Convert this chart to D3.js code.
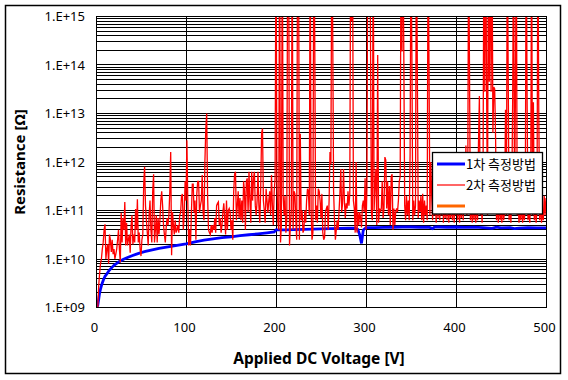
<!DOCTYPE html>
<html><head><meta charset="utf-8">
<script src="https://cdn.jsdelivr.net/npm/d3@7/dist/d3.min.js"></script>
<style>body{margin:0;background:#fff}svg{display:block}</style>
</head><body><svg id="chart" width="568" height="380"></svg>
<script>
// ---------- data ----------
const xTicks = [0, 100, 200, 300, 400, 500];
const yTickValues = [1e9, 1e10, 1e11, 1e12, 1e13, 1e14, 1e15];
const yTickLabels = ["1.E+09", "1.E+10", "1.E+11", "1.E+12", "1.E+13", "1.E+14", "1.E+15"];
const seriesNames = ["1차 측정방법", "2차 측정방법", ""];
const seriesColors = ["#0000ff", "#ff0000", "#ff6600"];

// series 1 (blue): voltage [V] and resistance [ohm]
const s1Volts = [1,2,3,4,5,6,7,8,10,12,14,16,18,20,23,26,30,35,40,45,50,55,60,65,70,75,80,85,90,95,100,110,120,130,140,150,160,170,180,190,198,200,210,220,230,240,250,260,270,280,288,291,293,295,297,300,310,320,330,340,350,360,370,374,376,380,390,400,410,420,430,440,445,450,460,465,470,480,490,500];
const s1Values = [1.0e9,1.12e9,1.48e9,2.0e9,2.4e9,2.8e9,3.2e9,3.6e9,4.4e9,4.9e9,5.6e9,6.2e9,6.8e9,7.4e9,8.1e9,8.9e9,9.8e9,1.07e10,1.17e10,1.26e10,1.35e10,1.43e10,1.51e10,1.58e10,1.66e10,1.72e10,1.78e10,1.84e10,1.9e10,1.97e10,2.04e10,2.26e10,2.45e10,2.6e10,2.75e10,2.85e10,3.02e10,3.16e10,3.3e10,3.47e10,3.63e10,3.98e10,3.98e10,4.03e10,4.07e10,4.12e10,4.17e10,4.22e10,4.27e10,4.32e10,4.32e10,4.07e10,3.16e10,2.1e10,3.98e10,4.42e10,4.42e10,4.47e10,4.52e10,4.57e10,4.57e10,4.52e10,4.52e10,4.22e10,4.52e10,4.57e10,4.52e10,4.57e10,4.47e10,4.52e10,4.42e10,4.3e10,4.55e10,4.37e10,4.42e10,4.25e10,4.32e10,4.42e10,4.37e10,4.37e10];

// series 2 (red): one reading per volt, starting at 2 V
const s2StartVolt = 2;
const s2StepVolt = 1;
const s2Values = [
 1e9,2.8e9,5e9,8e9,1e10,1.6e10,2.2e10,4e10,5.2e10,1e10,
 1.6e10,2e10,8e9,3.2e10,2.5e10,1.4e10,2.5e10,1.26e10,1.6e10,1e10,
 1.26e10,1.6e10,2.5e10,4e10,1.6e10,8.5e9,9e10,2.2e10,7e10,4e10,
 1.5e11,1.9e10,5.6e10,1.9e10,2.5e10,3.2e10,1.35e10,5e10,8e10,2e10,
 3.2e10,2.2e10,1.07e11,4e10,1.7e11,2.2e10,3.5e10,1.6e10,1.15e10,2.5e10,
 3.2e10,3.5e11,8e11,1.26e11,6.3e10,3.5e10,1.9e10,8e10,1.6e11,4e10,
 2.2e10,2.5e11,5.6e11,2.2e10,4e10,8e10,2.2e10,7e10,3.2e10,6.3e10,
 1.6e11,2.5e11,1.26e11,5e10,3.2e10,2.2e10,4.5e10,7e10,5e10,8e10,
 2.5e11,1.6e12,1.2e10,9.3e10,5e10,3.2e10,6.3e10,3.5e10,4e10,5e10,
 3.5e10,8e10,9e10,2e11,2.2e11,4e10,8e10,4e11,1.6e11,2.8e12,
 1.5e11,1.9e10,4e10,1.9e10,9e10,3.5e11,3.5e11,9e10,1.6e11,2.5e10,
 2.2e11,4e11,4e11,9e10,1.26e11,1.6e11,5.4e11,9e10,6.3e10,1e12,
 4.9e12,1e13,2e11,4e10,3.5e10,3.2e10,5e10,3.5e10,5e10,4e10,
 7e10,3.5e10,1.26e11,1.4e11,1.5e11,5e10,7e10,3.5e10,5e10,9.3e10,
 1.4e11,7e10,3.2e10,1.6e11,4e10,1e11,1.1e11,9.3e10,4e10,6.3e10,
 2.5e10,2.5e11,5.6e11,6.3e11,6.3e10,1.26e11,2.5e11,7e10,1.8e11,6.3e10,
 1.6e11,5.6e10,4e11,2.5e11,4e10,4e11,4.6e11,9.3e10,6.3e11,1.6e11,
 5.6e10,6.3e11,1.6e11,4.6e11,6.3e11,1.26e11,8e10,1.6e11,6.3e11,1.26e11,
 5.6e10,2.8e11,4e12,4.9e12,1.6e11,1e11,5.6e10,2.8e11,1.6e11,9e10,
 1.6e11,2.5e11,8e10,5.4e11,1.26e11,5e10,2.5e11,4.6e11,1e17,4.6e11,
 6.3e10,4e10,1e17,2.2e10,5e10,1e17,2e11,8e10,2e11,3.5e10,
 6.3e10,1e17,1e17,1.9e10,5e10,1e11,1e17,4e10,2.5e11,2.2e11,
 6.3e10,2.5e10,1e17,1e17,2.5e10,3.8e12,6.3e10,1e11,3.5e10,4e10,
 1e11,5.6e10,1.6e11,2.8e11,2.5e11,8e10,1e17,1e11,2.5e10,3.5e10,
 1e17,5.6e14,6.3e10,1.26e11,5.6e10,2.8e11,2.5e11,1.6e11,7e10,2.2e11,
 3.5e10,2.5e10,2.8e10,9.3e10,1.1e11,1.26e11,4e10,1.6e11,1.6e12,9e11,
 1e17,6e14,2.5e11,6.3e10,2.5e10,4e10,6.3e10,4e10,9.3e10,2.2e11,
 7.2e11,9.3e10,1.4e11,7.2e11,1.6e11,7e10,1.4e11,1.1e11,2.5e11,1.26e11,
 2.2e11,1e17,8e14,1e17,1.6e11,1.1e11,3.5e10,1e12,3.5e10,9.3e10,
 5e10,9.3e10,7e10,4.5e10,1.26e11,1.6e11,9.3e10,4.6e11,4e10,2.8e11,
 1e17,1e17,1e17,3.7e14,9.3e10,6.3e10,1e17,1e11,3.2e11,7.2e11,
 5e10,1.6e14,5.6e10,1.1e11,9.3e10,1.1e11,4e11,7e10,1.1e11,1.26e12,
 1.1e12,1.1e11,4e11,8e10,3.2e11,5e10,5e11,5.6e11,4e10,1.1e11,
 5e10,9.3e10,1.1e11,9.3e10,1.6e11,4e11,5e11,1e17,1.9e14,1e17,
 1.9e14,1.26e11,6.3e10,2e11,8e10,1.6e11,6.3e10,1.4e12,1e17,1.5e14,
 6.3e10,1.6e11,8e10,1.26e11,1e17,1.07e14,7e10,1.6e11,9.3e10,2e11,
 6.3e10,2.2e11,5.6e10,1.6e11,8e10,1.26e11,6.3e10,1e17,1e14,8e10,
 1e12,2e11,6.3e10,4e11,8e10,1.6e11,5.6e10,1e12,7e10,2.5e11,
 6.3e10,5e11,8e10,1.2e12,5.6e10,2e11,7e10,3.2e11,6.3e10,8e11,
 5.6e10,1.6e11,7e10,4e11,6.3e10,2.5e11,5.6e10,6.3e11,8e10,1.6e11,
 6.3e10,5e11,5.6e10,2e11,7e10,1e12,6.3e10,3.2e11,1.6e11,2.2e12,
 8e10,1e11,1e17,7.2e13,6.3e10,2e11,5.6e10,1.6e11,6.3e10,2e11,
 5.6e10,3.2e11,6.3e10,2.5e12,2.3e13,8e10,1.6e11,5.6e10,2.5e11,1e17,
 2.8e13,1e17,3.2e13,8e10,1e17,4.5e13,1e17,2.8e13,1e17,4e12,
 3.5e13,3.2e13,3e12,6.3e10,1.6e11,5.6e10,2.5e11,6.3e10,1.26e11,5.6e10,
 2e11,6.3e10,1e11,1.2e13,8e10,1e17,6.3e13,6.3e10,1.6e11,5.6e10,
 2.5e11,2.3e13,1e17,1e11,2e13,1e17,8e10,1.6e11,5.6e10,1e11,
 6.3e10,2e11,5.6e10,1.26e11,6.3e10,1.6e11,1e17,2e13,6.3e10,1.26e11,
 5.6e10,2e11,1e17,8e10,1.7e13,6.3e10,1.6e11,5.6e10,1e11,1e17,
 9e12,6.3e10,1.6e11,5.6e10,1e11,6.3e10,2e11,8e10,1.8e11
];
// series 3 (orange): legend entry only, no plotted points
const s3Values = [];

// ---------- chart ----------
const svg = d3.select("#chart");
const PL = 96, PR = 546, PT = 16.5, PB = 307.5;
const x = d3.scaleLinear().domain([0, 500]).range([PL, PR]);
const y = d3.scaleLog().domain([1e9, 1e15]).range([PB, PT]);
const crisp = v => Math.round(v - 0.5) + 0.5;

svg.append("rect").attr("width", 568).attr("height", 380).attr("fill", "#fff");

svg.append("defs").append("clipPath").attr("id", "plotclip")
  .append("rect").attr("x", PL).attr("y", PT).attr("width", PR - PL).attr("height", PB - PT);

// gridlines
const gridVals = [];
for (let e = 9; e < 15; e++) for (let m = 1; m <= 9; m++) gridVals.push(m * Math.pow(10, e));
gridVals.push(1e15);
const grid = svg.append("g").attr("shape-rendering", "crispEdges").attr("stroke", "#000").attr("stroke-width", 1);
grid.selectAll("line.h").data(gridVals).join("line").attr("class", "h")
  .attr("x1", PL).attr("x2", PR)
  .attr("y1", d => crisp(y(d))).attr("y2", d => crisp(y(d)));
grid.selectAll("line.v").data(xTicks).join("line").attr("class", "v")
  .attr("y1", PT).attr("y2", PB)
  .attr("x1", d => crisp(x(d))).attr("x2", d => crisp(x(d)));

// series
const plot = svg.append("g").attr("clip-path", "url(#plotclip)");
const s1 = s1Volts.map((v, i) => [v, s1Values[i]]);
const s2 = s2Values.map((r, i) => [s2StartVolt + i * s2StepVolt, r]);
const line = d3.line().x(d => x(d[0])).y(d => y(d[1]));
plot.append("path").datum(s1).attr("d", line).attr("fill", "none")
  .attr("stroke", seriesColors[0]).attr("stroke-width", 2.8);
plot.append("path").datum(s2).attr("d", line).attr("fill", "none")
  .attr("stroke", seriesColors[1]).attr("stroke-width", 1.3);

// plot frame
svg.append("rect").attr("x", PL + 0.5).attr("y", PT).attr("width", PR - PL).attr("height", PB - PT)
  .attr("fill", "none").attr("stroke", "#000").attr("shape-rendering", "crispEdges");

// axes
const yAxis = d3.axisLeft(y).tickValues(yTickValues).tickFormat((d, i) => yTickLabels[i]).tickSize(0).tickPadding(11);
const gy = svg.append("g").attr("transform", `translate(${PL},0)`).call(yAxis);
gy.select(".domain").remove();
gy.selectAll("text").attr("font-family", "'Noto Sans', sans-serif").attr("font-size", 13).attr("fill", "#000");

const xAxis = d3.axisBottom(x).tickValues(xTicks).tickFormat(d3.format("d")).tickSize(0).tickPadding(15);
const gx = svg.append("g").attr("transform", `translate(-2,${PB})`).call(xAxis);
gx.select(".domain").remove();
gx.selectAll("text").attr("font-family", "'Noto Sans', sans-serif").attr("font-size", 13).attr("fill", "#000");

// titles
svg.append("text").attr("x", 319).attr("y", 364).attr("text-anchor", "middle")
  .attr("font-family", "'Noto Sans', sans-serif").attr("font-weight", "bold").attr("font-size", 15.5)
  .text("Applied DC Voltage [V]");
svg.append("text").attr("transform", "translate(25,162) rotate(-90)").attr("text-anchor", "middle")
  .attr("font-family", "'Noto Sans', sans-serif").attr("font-weight", "bold").attr("font-size", 15)
  .text("Resistance [Ω]");

// legend
const lg = svg.append("g");
lg.append("rect").attr("x", 432.5).attr("y", 152.5).attr("width", 110).attr("height", 61.5)
  .attr("fill", "#fff").attr("stroke", "#000").attr("stroke-width", 1.3);
const widths = [3, 1.2, 3];
seriesNames.forEach((name, i) => {
  const yy = 164 + i * 21;
  lg.append("line").attr("x1", 437).attr("x2", 465).attr("y1", yy).attr("y2", yy)
    .attr("stroke", seriesColors[i]).attr("stroke-width", widths[i]);
  lg.append("text").attr("x", 466).attr("y", yy).attr("dy", "0.35em")
    .attr("font-family", "'Noto Sans CJK KR', sans-serif").attr("font-size", 13).attr("fill", "#000")
    .text(name);
});

// outer border
svg.append("rect").attr("x", 5.5).attr("y", 5.5).attr("width", 555).attr("height", 368)
  .attr("fill", "none").attr("stroke", "#000").attr("stroke-width", 1.5);
</script>
</body></html>
